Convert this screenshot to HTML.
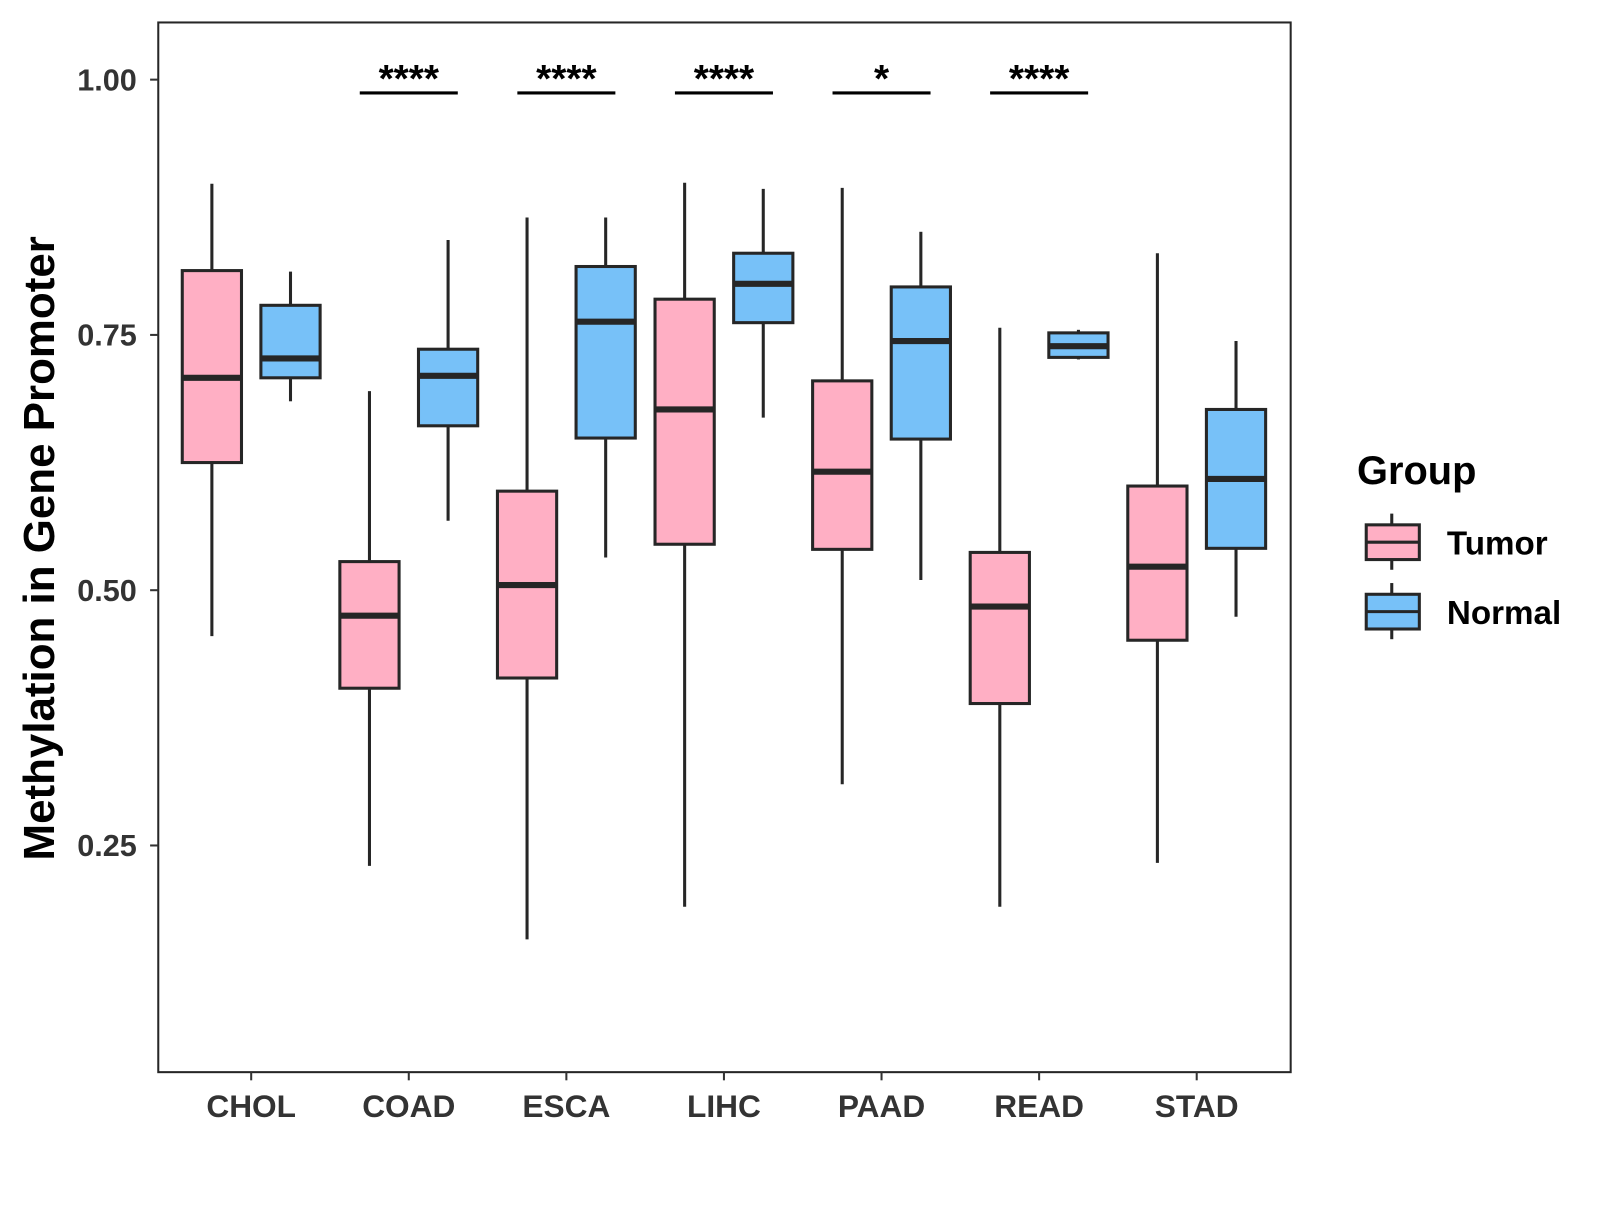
<!DOCTYPE html>
<html><head><meta charset="utf-8"><style>
html,body{margin:0;padding:0;background:#fff;}
svg text{font-family:"Liberation Sans",Arial,sans-serif;font-weight:bold;}
</style></head><body>
<svg id="chart" width="1600" height="1200" viewBox="0 0 1600 1200" xmlns="http://www.w3.org/2000/svg">
<g transform="scale(1.0211)">
<rect x="155" y="22" width="1109" height="1028" fill="#fff" stroke="#262626" stroke-width="2"/>
<g id="yaxis"></g>
<g id="xaxis"></g>
<g id="boxes"></g>
<g id="sig"></g>
<text transform="translate(53,537) rotate(-90)" text-anchor="middle" font-size="43" fill="#000">Methylation in Gene Promoter</text>
<g>
<text x="1329" y="474" font-size="39" fill="#000">Group</text>
<g>
<line x1="1363" y1="503" x2="1363" y2="558" stroke="#262626" stroke-width="3"/>
<rect x="1338" y="514" width="52" height="34" fill="#FFAFC4" stroke="#262626" stroke-width="3"/>
<line x1="1338" y1="531" x2="1390" y2="531" stroke="#262626" stroke-width="3"/>
<text x="1417" y="543" font-size="32.5" fill="#000">Tumor</text>
</g>
<g>
<line x1="1363" y1="571" x2="1363" y2="626" stroke="#262626" stroke-width="3"/>
<rect x="1338" y="582" width="52" height="34" fill="#77C1F8" stroke="#262626" stroke-width="3"/>
<line x1="1338" y1="599" x2="1390" y2="599" stroke="#262626" stroke-width="3"/>
<text x="1417" y="611" font-size="32.5" fill="#000">Normal</text>
</g>
</g>
</g>
</svg>
<script>
const categories = ["CHOL","COAD","ESCA","LIHC","PAAD","READ","STAD"];
// [whiskerLow, q1, median, q3, whiskerHigh]
const tumorStats = [
 [0.455,0.625,0.708,0.813,0.898],
 [0.230,0.404,0.475,0.528,0.695],
 [0.158,0.414,0.505,0.597,0.865],
 [0.190,0.545,0.677,0.785,0.899],
 [0.310,0.540,0.616,0.705,0.894],
 [0.190,0.389,0.484,0.537,0.757],
 [0.233,0.451,0.523,0.602,0.830]
];
const normalStats = [
 [0.685,0.708,0.727,0.779,0.812],
 [0.568,0.661,0.710,0.736,0.843],
 [0.532,0.649,0.763,0.817,0.865],
 [0.669,0.762,0.800,0.830,0.893],
 [0.510,0.648,0.744,0.797,0.851],
 [0.726,0.728,0.739,0.752,0.755],
 [0.474,0.541,0.609,0.677,0.744]
];
const sigLabels = ["","****","****","****","*","****",""];
const yTicks = [0.25,0.50,0.75,1.00];
const yTickLabels = ["0.25","0.50","0.75","1.00"];

const NS="http://www.w3.org/2000/svg";
function y(v){return 78+(1-v)*1000;}
function x(i){return 246+i*154.33;}
function mk(tag,attrs,parent){const e=document.createElementNS(NS,tag);for(const k in attrs)e.setAttribute(k,attrs[k]);parent.appendChild(e);return e;}
const ya=document.getElementById('yaxis'),xa=document.getElementById('xaxis'),bx=document.getElementById('boxes'),sg=document.getElementById('sig');
yTicks.forEach((t,i)=>{
  const l=mk('line',{x1:147,x2:155,y1:y(t),y2:y(t),stroke:'#333','stroke-width':2},ya);
  
  
  const tx=mk('text',{x:134,y:y(t)+10.5,'text-anchor':'end','font-size':30,fill:'#333'},ya);
  tx.textContent=yTickLabels[i];
  
  
});
categories.forEach((c,i)=>{
  const l=mk('line',{x1:x(i),x2:x(i),y1:1050,y2:1058,stroke:'#333','stroke-width':2},xa);
  
  
  const tx=mk('text',{x:x(i),y:1094,'text-anchor':'middle','font-size':31,fill:'#333'},xa);
  tx.textContent=c;
  
  
});
function drawBox(cx,s,fill,name){
  const g=mk('g',{},bx);
  
  
  const w=58;
  mk('line',{x1:cx,x2:cx,y1:y(s[4]),y2:y(s[3]),stroke:'#262626','stroke-width':3},g);
  mk('line',{x1:cx,x2:cx,y1:y(s[1]),y2:y(s[0]),stroke:'#262626','stroke-width':3},g);
  mk('rect',{x:cx-w/2,y:y(s[3]),width:w,height:y(s[1])-y(s[3]),fill:fill,stroke:'#262626','stroke-width':3},g);
  mk('line',{x1:cx-w/2,x2:cx+w/2,y1:y(s[2]),y2:y(s[2]),stroke:'#262626','stroke-width':6},g);
}
categories.forEach((c,i)=>{
  drawBox(x(i)-38.5,tumorStats[i],'#FFAFC4','box-tumor-'+c.toLowerCase());
  drawBox(x(i)+38.5,normalStats[i],'#77C1F8','box-normal-'+c.toLowerCase());
  if(sigLabels[i]){
    const l=mk('line',{x1:x(i)-48,x2:x(i)+48,y1:91,y2:91,stroke:'#000','stroke-width':3},sg);
    
    
    const t=mk('text',{x:x(i),y:90,'text-anchor':'middle','font-size':38,fill:'#000'},sg);
    t.textContent=sigLabels[i];
    
    
  }
});
</script>
</body></html>
